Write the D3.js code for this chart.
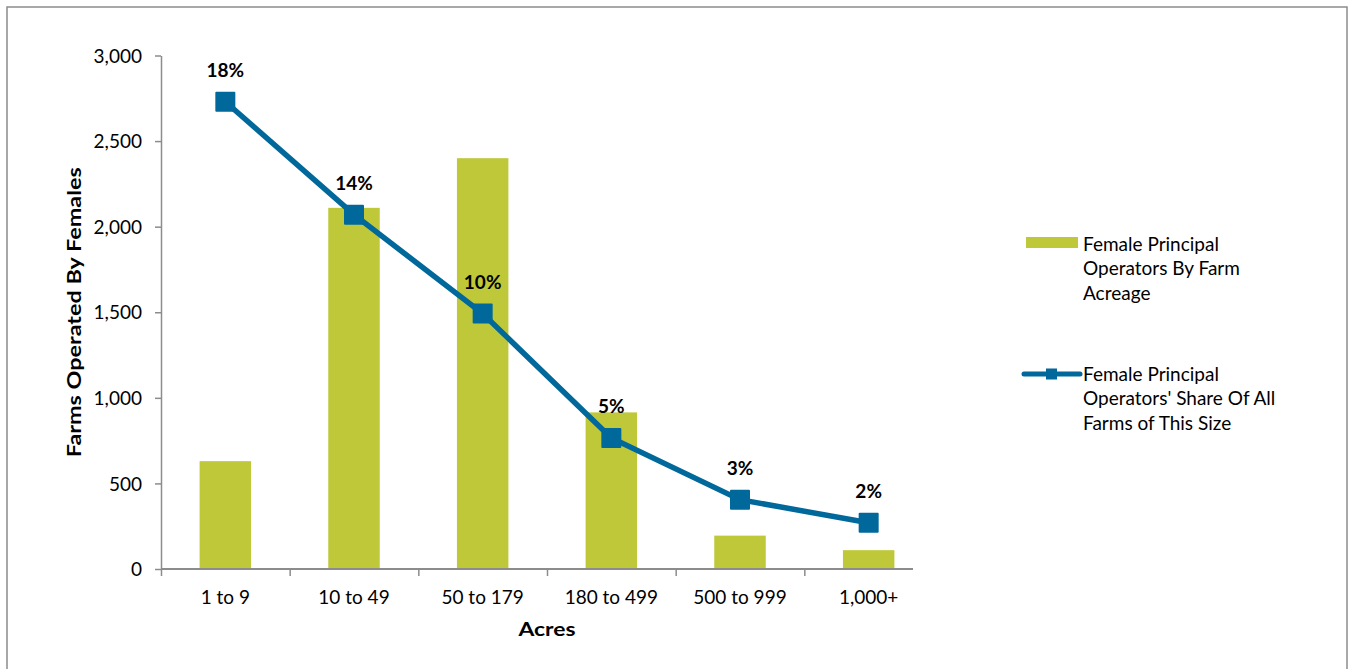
<!DOCTYPE html>
<html>
<head>
<meta charset="utf-8">
<title>Female Principal Operators</title>
<script src="https://cdn.jsdelivr.net/npm/d3@7"></script>
<style>
  body { margin: 0; background: #fff; }
  svg text { font-family: Lato, "Open Sans", sans-serif; fill: #000; }
  .axis path, .axis line { stroke: #8c8c8c; }
</style>
</head>
<body>
<div id="chart"></div>
<script>
// acreage classes
var categories = ["1 to 9", "10 to 49", "50 to 179", "180 to 499", "500 to 999", "1,000+"]
// farms operated by females (bars, left axis)
var farms = [630, 2110, 2400, 915, 195, 110]
// share of all farms of this size (line, hidden right axis 0-20%)
var share = [0.182, 0.138, 0.0995, 0.051, 0.027, 0.018]
var shareLabels = ["18%", "14%", "10%", "5%", "3%", "2%"]
var yTicks = [0, 500, 1000, 1500, 2000, 2500, 3000]
var legendItems = [
  ["Female Principal", "Operators By Farm", "Acreage"],
  ["Female Principal", "Operators' Share Of All", "Farms of This Size"]
]

var barColor = "#bec838"
var lineColor = "#00689a"

var W = 1351, H = 669
var margin = { left: 161, right: 418, top: 56, bottom: 100 }

var svg = d3.select("#chart").append("svg")
  .attr("width", W).attr("height", H)

// outer frame
svg.append("rect")
  .attr("x", 7).attr("y", 7)
  .attr("width", W - 11).attr("height", H + 20)
  .attr("fill", "none").attr("stroke", "#8c8c8c").attr("stroke-width", 1.5)

var x = d3.scaleBand().domain(categories).range([margin.left, W - margin.right])
var xi = d3.scaleLinear().domain([0, categories.length]).range(x.range())
var y = d3.scaleLinear().domain([0, 3000]).range([H - margin.bottom, margin.top - 0.5])
var y2 = d3.scaleLinear().domain([0, 0.20]).range(y.range())

// y axis
var yAxis = svg.append("g").attr("class", "axis")
  .attr("transform", "translate(" + margin.left + ",0)")
  .call(d3.axisLeft(y).tickValues(yTicks).tickFormat(d3.format(",")).tickSize(6).tickPadding(13).tickSizeOuter(0))
yAxis.select(".domain").attr("stroke-width", 1.5)
yAxis.selectAll("line").attr("stroke-width", 1.5)
yAxis.selectAll("text").attr("font-size", 19).attr("dy", "0.35em")

// bars
var bw = x.bandwidth() * 0.4
svg.selectAll(".bar").data(farms).enter().append("rect")
  .attr("class", "bar")
  .attr("x", function (d, i) { return x(categories[i]) + (x.bandwidth() - bw) / 2 })
  .attr("y", function (d) { return y(d) })
  .attr("width", bw)
  .attr("height", function (d) { return y(0) - y(d) })
  .attr("fill", barColor)

// x axis, ticks between categories
var xAxis = svg.append("g").attr("class", "axis")
  .attr("transform", "translate(0," + y(0) + ")")
  .call(d3.axisBottom(xi).tickValues(d3.range(categories.length)).tickFormat("").tickSize(7).tickSizeOuter(0))
xAxis.select(".domain").attr("d", "M" + xi(0) + ",0H" + (xi(categories.length) - 20)).attr("stroke-width", 2)
xAxis.selectAll("line").attr("stroke-width", 1.5)

svg.append("g").selectAll("text").data(categories).enter().append("text")
  .attr("x", function (d) { return x(d) + x.bandwidth() / 2 })
  .attr("y", y(0) + 35)
  .attr("text-anchor", "middle")
  .attr("font-size", 19)
  .text(function (d) { return d })

// line
var cx = function (d, i) { return x(categories[i]) + x.bandwidth() / 2 }
svg.append("path")
  .datum(share)
  .attr("fill", "none")
  .attr("stroke", lineColor)
  .attr("stroke-width", 5.5)
  .attr("d", d3.line().x(cx).y(function (d) { return y2(d) }))

svg.selectAll(".mk").data(share).enter().append("rect")
  .attr("class", "mk")
  .attr("x", function (d, i) { return cx(d, i) - 10 })
  .attr("y", function (d) { return y2(d) - 10 })
  .attr("width", 20).attr("height", 20)
  .attr("rx", 1)
  .attr("fill", lineColor)

svg.selectAll(".lbl").data(share).enter().append("text")
  .attr("class", "lbl")
  .attr("x", cx)
  .attr("y", function (d) { return y2(d) - 25 })
  .attr("text-anchor", "middle")
  .attr("font-size", 19)
  .attr("font-weight", "bold")
  .text(function (d, i) { return shareLabels[i] })

// axis titles
svg.append("text")
  .attr("transform", "translate(81," + (y(1500)) + ") rotate(-90)")
  .attr("text-anchor", "middle")
  .attr("font-size", 19.5)
  .attr("font-weight", "bold")
  .attr("textLength", 290)
  .attr("lengthAdjust", "spacingAndGlyphs")
  .text("Farms Operated By Females")

svg.append("text")
  .attr("x", (x.range()[0] + x.range()[1]) / 2)
  .attr("y", y(0) + 67)
  .attr("text-anchor", "middle")
  .attr("font-size", 19.5)
  .attr("font-weight", "bold")
  .attr("textLength", 57)
  .attr("lengthAdjust", "spacingAndGlyphs")
  .text("Acres")

// legend
var lg = svg.append("g").attr("transform", "translate(1026,0)")
lg.append("rect").attr("x", 0).attr("y", 237).attr("width", 52).attr("height", 11).attr("fill", barColor)
lg.append("line").attr("x1", -2).attr("x2", 54).attr("y1", 374).attr("y2", 374)
  .attr("stroke", lineColor).attr("stroke-width", 5).attr("stroke-linecap", "round")
lg.append("rect").attr("x", 20).attr("y", 368.5).attr("width", 11).attr("height", 11).attr("fill", lineColor)

legendItems.forEach(function (lines, k) {
  var top = k == 0 ? 244 : 374
  lg.append("g").selectAll("text").data(lines).enter().append("text")
    .attr("x", 57)
    .attr("y", function (d, i) { return top + i * 24.5 })
    .attr("dy", "0.35em")
    .attr("font-size", 19)
    .text(function (d) { return d })
})
</script>
</body>
</html>
